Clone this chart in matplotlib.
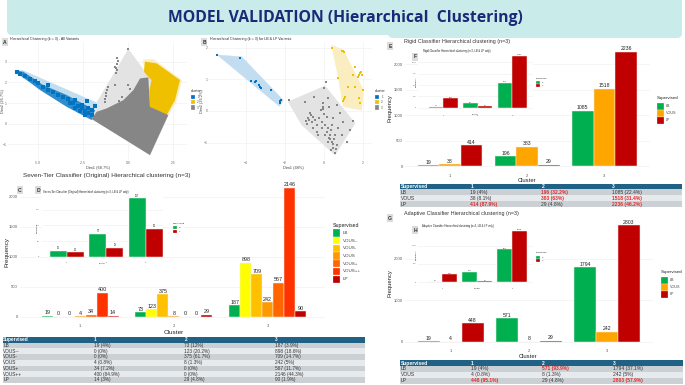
import numpy as np
import matplotlib
matplotlib.use('Agg')
import matplotlib.pyplot as plt
from matplotlib.patches import FancyBboxPatch, Rectangle, Polygon

plt.rcParams['font.family'] = ['Liberation Sans', 'DejaVu Sans']

W, H = 685, 385

# ---- data ----
clusters = [1, 2, 3]

# seven tier classifier
tiers = ['LB', 'VOUS--', 'VOUS-', 'VOUS', 'VOUS+', 'VOUS++', 'LP']
tier_colors = ['#00B050', '#FFFF00', '#FFC000', '#FF9900', '#FF6600', '#FF3300', '#C00000']
seven_vals = [[19, 73, 187], [0, 123, 898], [0, 375, 709], [4, 8, 242],
              [34, 0, 567], [400, 0, 2146], [14, 29, 90]]
seven_pct = [['4%', '12%', '3.9%'], ['0%', '20.2%', '18.6%'], ['0%', '61.7%', '14.7%'],
             ['0.8%', '1.3%', '5%'], ['7.2%', '0%', '11.7%'], ['84.9%', '0%', '44.3%'],
             ['3%', '4.8%', '1.9%']]
seven_lb_lp = [[19, 73, 187], [14, 29, 90]]

# three tier classifiers
three = ['LB', 'VOUS', 'LP']
three_colors = ['#00B050', '#FFA500', '#C00000']
rigid_vals = [[19, 196, 1085], [38, 383, 1518], [414, 29, 2236]]
rigid_pct = [['4%', '32.2%', '22.4%'], ['8.1%', '63%', '31.4%'], ['87.9%', '4.8%', '46.2%']]
rigid_red = [(0, 1), (1, 1), (1, 2), (2, 0), (2, 2)]
rigid_lb_lp = [[19, 96, 551], [206, 29, 1140]]

adaptive_vals = [[19, 571, 1794], [4, 8, 242], [448, 29, 2803]]
adaptive_pct = [['4%', '93.9%', '37.1%'], ['0.8%', '1.3%', '5%'], ['95.1%', '4.8%', '57.9%']]
adaptive_red = [(0, 1), (2, 0), (2, 2)]
adaptive_lb_lp = [[19, 282, 900], [218, 29, 1409]]

lb_lp = ['LB', 'LP']
lb_lp_colors = ['#00B050', '#C00000']

# cluster plots
cl_colors = ['#0073C2', '#EFC000', '#868686']
cl_fills = ['#C3DDF0', '#FAEDBF', '#E3E3E3']

a_hull1_x = [-6.28, -5.81, -1.74, -2.02, -6.28]
a_hull1_y = [2.56, 2.56, 1.01, 0.26, 2.46]
a_hull2_x = [0.85, 1.41, 2.98, 2.7, 2.24, 1.22, 1.13, 0.94]
a_hull2_y = [3.08, 3.11, 2.11, 1.14, 0.42, 0.82, 1.63, 2.51]
a_hull3_x = [0.02, 0.94, 1.22, 2.24, 1.22, -2.02, -1.74]
a_hull3_y = [3.59, 2.51, 2.2, 0.42, -1.51, 0.26, 1.01]
a_core1_x = [-6.28, -5.81, -4.71, -3.41, -1.83, -2.02, -3.41, -4.89, -6.0]
a_core1_y = [2.59, 2.51, 1.87, 1.39, 0.66, 0.18, 0.82, 1.63, 2.35]
a_core2_x = [0.94, 1.59, 2.89, 2.61, 2.15, 1.22, 1.19, 1.31, 0.89]
a_core2_y = [3.0, 2.92, 2.11, 1.14, 0.42, 0.82, 1.63, 2.11, 2.51]
a_core3_x = [-2.02, 1.22, 2.24, 1.22, 1.13, 0.67, 0.30, -0.26, -1.19, -1.74]
a_core3_y = [0.23, -1.51, 0.42, 0.82, 2.24, 2.19, 1.63, 1.14, 0.74, 0.58]
a_pts1_x = [-6.19, -6.0, -5.72, -5.44, -5.17, -4.98, -4.70, -4.43, -4.15, -3.87, -3.59, -3.31,
            -3.04, -2.76, -2.57, -2.39, -2.20, -2.02, -1.83, -2.30, -4.43, -3.22, -2.94, -2.67,
            -2.39, -2.94, -2.57, -2.20, -2.02]
a_pts1_y = [2.50, 2.40, 2.30, 2.18, 2.05, 1.95, 1.76, 1.63, 1.53, 1.39, 1.27, 1.18,
            0.98, 0.86, 0.74, 0.63, 0.50, 0.42, 0.86, 1.10, 1.87, 0.98, 0.74, 0.61,
            0.42, 1.14, 0.90, 0.74, 0.66]
a_pts3_x = [-0.63, -0.6, -0.63, -0.7, -1.2, -1.3, -1.1, -0.7, 0.0, -0.5, 0.02, -0.65, -1.25,
            -0.58, -0.66, -1.15, -1.28, -0.35, 0.1]
a_pts3_y = [3.16, 2.9, 2.6, 2.75, 1.5, 1.2, 1.8, 1.85, 1.85, 1.1, 3.59, 2.45, 1.35,
            3.03, 2.68, 1.65, 1.05, 1.3, 1.7]

b_hull1_x = [-5.47, -4.22, -2.09, -2.29]
b_hull1_y = [1.77, 1.71, 0.34, 0.15]
b_hull2_x = [0.39, 0.99, 2.02, 1.93, 0.99, 0.73]
b_hull2_y = [2.08, 1.92, 0.66, 0.03, 0.14, 1.08]
b_hull3_x = [-1.83, 0.05, 1.59, 0.56, -1.14]
b_hull3_y = [0.29, 0.79, -0.39, -1.39, -0.44]
b_pts1_x = [-5.47, -4.31, -3.76, -3.49, -3.28, -3.25, -3.32, -2.72, -2.21, -2.26, -3.55, -2.28]
b_pts1_y = [1.77, 1.66, 0.96, 0.96, 0.77, 0.72, 0.82, 0.66, 0.35, 0.24, 0.92, 0.30]
b_pts2_x = [0.43, 0.91, 1.03, 1.59, 1.85, 1.76, 1.93, 1.25, 1.59, 1.08, 0.99, 1.85, 1.81, 2.02, 0.74, 1.47,
            0.97, 1.8, 1.88, 1.02]
b_pts2_y = [2.0, 1.90, 1.87, 1.38, 1.19, 1.08, 1.14, 0.75, 0.75, 0.45, 0.33, 0.24, 0.40, 0.66, 1.03, 1.14,
            1.88, 1.15, 1.22, 0.39]
b_pts3_x = [-1.81, -0.97, -0.50, 0, 0.10, -0.72, -0.80, -0.92, -0.85, -0.63, -0.55, -0.38, -0.24, -0.17,
            -0.07, -0.03, 0.22, 0.27, 0.65, 0.82, -0.12, 0.05, 0.14, 0.31, 0.39, 0.48, 0.56, 0.65,
            0.91, 0.99, 1.50, 1.33, 1.16, 0.56, 0.39, -0.38, -0.55, -0.29, 0.22, 0.74, 0.48, 0.14,
            0.05, 0.34, -0.75, -0.68, -0.45, -0.1, -0.05, 0.0, 0.2, 0.26, 0.44, 0.5, 0.6, 0.36, 0.3]
b_pts3_y = [0.35, 0.29, 0.43, 0.72, 0.93, -0.07, -0.23, -0.32, -0.42, -0.36, -0.18, -0.44, -0.23, 0.03,
            0.24, 0.14, 0.40, 0.14, 0.19, -0.07, -0.55, -0.44, -0.65, -0.76, -0.97, -1.18, -1.34, -1.07,
            -0.76, -0.34, -0.32, -0.60, -0.97, -0.76, -0.44, -0.65, -0.55, -0.76, -0.97, -0.55, -0.23, -0.18,
            -0.76, -1.23, -0.3, -0.12, -0.3, -0.35, 0.05, -0.1, -0.55, -0.85, -1.05, -0.9, -1.2, -0.6, -0.88]


# ---- helpers ----
def px_axes(l, t, r, b, z=1):
    ax = fig.add_axes([l / W, 1 - b / H, (r - l) / W, (b - t) / H], zorder=z)
    ax.set_facecolor('white')
    for s in ax.spines.values():
        s.set_visible(False)
    ax.grid(True, color='#eeeeee', lw=0.4)
    ax.set_axisbelow(True)
    return ax


def bar_panel(ax, vals, colors, total=0.84, fs=3.9, ticks=None, tick_fs=3.0):
    n = len(vals)
    w = total / n
    x = np.array(clusters, dtype=float)
    for i, v in enumerate(vals):
        bars = ax.bar(x + (i - (n - 1) / 2) * w, v, w, color=colors[i], edgecolor='#f3f0ea', linewidth=0.35)
        ax.bar_label(bars, padding=0.4, fontsize=fs, color='#222222')
    ax.set_xticks(clusters)
    ax.set_yticks(ticks)
    ax.tick_params(length=0, labelsize=tick_fs, pad=1.5, labelcolor='#555555')
    ax.xaxis.grid(False)


def scatter_panel(ax, hulls, pts, s):
    for i in range(3):
        ax.add_patch(Polygon(np.column_stack(hulls[i]), closed=True, facecolor=cl_fills[i], edgecolor=cl_fills[i], lw=0.4))
    for i in range(3):
        if pts[i] is not None:
            ax.scatter(pts[i][0], pts[i][1], s=s, marker='s', color=cl_colors[i], linewidths=0)
    ax.tick_params(length=0, labelsize=2.4, pad=1, labelcolor='#666666')


def txt(x, y, s, **kw):
    kw.setdefault('va', 'center')
    kw.setdefault('color', '#222222')
    over.text(x, y, s, **kw)


def legend_px(x, y_title, y0, step, sw, sh, title, labels, colors, fs):
    txt(x, y_title, title, fontsize=fs)
    for i, lab in enumerate(labels):
        over.add_patch(Rectangle((x, y0 + i * step), sw, sh, facecolor=colors[i], edgecolor='white', lw=0.2))
        txt(x + sw + 2, y0 + i * step + sh / 2, lab, fontsize=fs * 0.85, color='#444444')


def badge(x, y, s):
    txt(x, y, s, fontsize=3.6, fontweight='bold', ha='center', color='#333333',
        bbox=dict(boxstyle='square,pad=0.25', facecolor='#dcdcdc', edgecolor='none'))


def table_px(x0, x1, cols, top, hh, rh, labels, vals, pct, red=(), fs=3.4):
    over.add_patch(Rectangle((x0, top), x1 - x0, hh, facecolor='#1F6285', edgecolor='none'))
    for c, s in zip(cols, ['Supervised', '1', '2', '3']):
        txt(c + 0.5, top + hh / 2, s, fontsize=fs, color='white', fontweight='bold')
    for r, lab in enumerate(labels):
        y = top + hh + r * rh
        over.add_patch(Rectangle((x0, y), x1 - x0, rh, facecolor='#CBD0D5' if r % 2 == 0 else '#E7EAED', edgecolor='none'))
        txt(cols[0] + 0.5, y + rh / 2, lab, fontsize=fs, color='#333333')
        for j in range(3):
            s = '%d (%s)' % (vals[r][j], pct[r][j])
            if (r, j) in red:
                txt(cols[j + 1] + 0.5, y + rh / 2, s, fontsize=fs, color='#E02B2B', fontweight='bold')
            else:
                txt(cols[j + 1] + 0.5, y + rh / 2, s, fontsize=fs, color='#333333')


fig = plt.figure(figsize=(W / 100, H / 100), dpi=100, facecolor='white')

# ---- panel A ----
ax_a = px_axes(8, 42, 187, 160)
ax_a.set_xlim(-6.67, 3.28)
ax_a.set_ylim(-1.75, 3.95)
scatter_panel(ax_a, [(a_hull1_x, a_hull1_y), (a_hull2_x, a_hull2_y), (a_hull3_x, a_hull3_y)],
              [None, None, (a_pts3_x, a_pts3_y)], 3.5)
ax_a.add_patch(Polygon(np.column_stack((a_core1_x, a_core1_y)), facecolor='#2F8BCB', edgecolor='none'))
ax_a.scatter(a_pts1_x, a_pts1_y, s=6, marker='s', color=cl_colors[0], linewidths=0)
ax_a.add_patch(Polygon(np.column_stack((a_core2_x, a_core2_y)), facecolor=cl_colors[1], edgecolor='none'))
ax_a.add_patch(Polygon(np.column_stack((a_core3_x, a_core3_y)), facecolor=cl_colors[2], edgecolor='none'))
ax_a.set_xticks([-5, -2.5, 0, 2.5])
ax_a.set_xticklabels(['-5.0', '-2.5', '0.0', '2.5'])
ax_a.set_yticks([-1, 0, 1, 2, 3])

# ---- panel B ----
ax_b = px_axes(208, 42, 372, 160)
ax_b.set_xlim(-5.95, 2.46)
ax_b.set_ylim(-1.55, 2.18)
scatter_panel(ax_b, [(b_hull1_x, b_hull1_y), (b_hull2_x, b_hull2_y), (b_hull3_x, b_hull3_y)],
              [(b_pts1_x, b_pts1_y), (b_pts2_x, b_pts2_y), (b_pts3_x, b_pts3_y)], 4.5)
ax_b.set_xticks([-4, -2, 0, 2])
ax_b.set_yticks([-1, 0, 1, 2])
ax_b.tick_params(axis='y', pad=0)

# ---- panel C + inset D ----
ax_c = px_axes(20, 182, 325, 322)
ax_c.set_xlim(0.36, 3.61)
ax_c.set_ylim(-88, 2245)
bar_panel(ax_c, seven_vals, tier_colors, total=0.82, fs=3.9, ticks=[0, 500, 1000, 1500, 2000])
ax_d = px_axes(41.7, 195, 163.3, 260, 2)
ax_d.set_xlim(0.37, 3.44)
ax_d.set_ylim(-10.6, 197)
bar_panel(ax_d, seven_lb_lp, lb_lp_colors, total=0.86, fs=1.8, ticks=[0, 50, 100, 150], tick_fs=1.6)

# ---- panel E + inset F ----
ax_e = px_axes(405, 47.7, 650, 171.7)
ax_e.set_xlim(0.417, 3.59)
ax_e.set_ylim(-105, 2319)
bar_panel(ax_e, rigid_vals, three_colors, total=0.84, fs=3.7, ticks=[0, 500, 1000, 1500, 2000])
ax_f = px_axes(418, 53, 533, 113, 2)
ax_f.set_xlim(0.267, 3.6)
ax_f.set_ylim(-117, 1207)
bar_panel(ax_f, rigid_lb_lp, lb_lp_colors, total=0.85, fs=1.6, ticks=[0, 250, 500, 750, 1000], tick_fs=1.5)

# ---- panel G + inset H ----
ax_g = px_axes(405, 220, 653, 346.7)
ax_g.set_xlim(0.413, 3.59)
ax_g.set_ylim(-113, 2928)
bar_panel(ax_g, adaptive_vals, three_colors, total=0.84, fs=3.7, ticks=[0, 1000, 2000])
ax_h = px_axes(418, 225, 533, 285.7, 2)
ax_h.set_xlim(0.306, 3.59)
ax_h.set_ylim(-93, 1561)
bar_panel(ax_h, adaptive_lb_lp, lb_lp_colors, total=0.85, fs=1.6, ticks=[0, 500, 1000], tick_fs=1.5)

# ---- overlay in pixels for banner, legends, tables ----
over = fig.add_axes([0, 0, 1, 1], zorder=5)
over.set_xlim(0, W)
over.set_ylim(H, 0)
over.axis('off')

over.add_patch(FancyBboxPatch((7, -10), 675, 45, boxstyle='round,pad=0,rounding_size=5', facecolor='#C9ECEA', edgecolor='none'))
over.add_patch(FancyBboxPatch((388, 20), 294, 18, boxstyle='round,pad=0,rounding_size=5', facecolor='#C9ECEA', edgecolor='none'))
txt(345, 18, 'MODEL VALIDATION (Hierarchical  Clustering)', fontsize=11.3, fontweight='bold',
    ha='center', color='#1B2A78', family=['Open Sans', 'DejaVu Sans'])

# titles
txt(10, 39, 'Hierarchical Clustering (k = 3) - All Variants', fontsize=2.6)
txt(210, 39, 'Hierarchical Clustering (k = 3) for LB & LP Variants', fontsize=2.6)
txt(23, 176, 'Seven-Tier Classifier (Original) Hierarchical clustering (n=3)', fontsize=4.6, color='#333333')
txt(43, 192, 'Seven-Tier Classifier (Original) Hierarchical clustering (n=3, LB & LP only)', fontsize=1.9)
txt(404, 41.7, 'Rigid Classifier Hierarchical clustering (n=3)', fontsize=3.9, color='#333333')
txt(423, 51, 'Rigid Classifier Hierarchical clustering (n=3, LB & LP only)', fontsize=1.9)
txt(404, 214, 'Adaptive Classifier Hierarchical clustering (n=3)', fontsize=3.9, color='#333333')
txt(422, 226, 'Adaptive Classifier Hierarchical clustering (n=3, LB & LP only)', fontsize=1.9)

# axis labels
txt(98, 168, 'Dim1 (68.7%)', fontsize=2.8, ha='center', color='#444444')
txt(3.5, 101, 'Dim2 (26.7%)', fontsize=2.8, ha='center', rotation=90, color='#444444')
txt(293, 168, 'Dim1 (48%)', fontsize=2.8, ha='center', color='#444444')
txt(202.5, 101, 'Dim2 (26.2%)', fontsize=2.8, ha='center', rotation=90, color='#444444')
txt(7.5, 252, 'Frequency', fontsize=4.6, ha='center', rotation=90)
txt(174, 332.7, 'Cluster', fontsize=4.6, ha='center')
txt(390, 107.7, 'Frequency', fontsize=4.2, ha='center', rotation=90)
txt(527, 180.3, 'Cluster', fontsize=4.2, ha='center')
txt(390, 283, 'Frequency', fontsize=4.2, ha='center', rotation=90)
txt(528, 356, 'Cluster', fontsize=4.2, ha='center')
txt(102, 263, 'Cluster', fontsize=1.6, ha='center')
txt(475, 114, 'Cluster', fontsize=1.6, ha='center')
txt(477, 288, 'Cluster', fontsize=1.6, ha='center')
txt(37, 228, 'Frequency', fontsize=1.6, ha='center', rotation=90)
txt(416, 82, 'Frequency', fontsize=1.6, ha='center', rotation=90)
txt(416, 255, 'Frequency', fontsize=1.6, ha='center', rotation=90)

# legends
cl_names = ['1', '2', '3']
legend_px(191, 91.5, 95, 5.2, 4.3, 4.3, 'cluster', cl_names, cl_colors, 2.6)
legend_px(375, 91.5, 95, 5.2, 4.3, 4.3, 'cluster', cl_names, cl_colors, 2.6)
legend_px(333, 225, 229.3, 7.7, 7.5, 7.2, 'Supervised', tiers, tier_colors, 3.8)
legend_px(657, 98.3, 103, 7, 7.2, 6.8, 'Supervised', three, three_colors, 3.2)
legend_px(660.7, 272.3, 276.7, 7, 7.2, 6.8, 'Supervised', three, three_colors, 3.2)
legend_px(173.3, 223.3, 226, 3.7, 3.3, 3.4, 'Supervised', lb_lp, lb_lp_colors, 1.7)
legend_px(536.3, 78.3, 81, 3.2, 3.5, 3.0, 'Supervised', lb_lp, lb_lp_colors, 1.6)
legend_px(536.3, 252.3, 256, 3.0, 3.5, 2.8, 'Supervised', lb_lp, lb_lp_colors, 1.6)

# panel letters
for bx, by, s in [(5, 42, 'A'), (204, 42, 'B'), (20, 190, 'C'), (38, 190, 'D'), (390, 46, 'E'),
                  (415, 57, 'F'), (390, 218, 'G'), (415, 230, 'H')]:
    badge(bx, by, s)

# tables
table_px(2.7, 365, [2.7, 93.3, 184, 274.3], 337, 5.7, 5.7, tiers, seven_vals, seven_pct)
table_px(400, 682, [400, 470, 541, 611.7], 183.7, 5.5, 6, three, rigid_vals, rigid_pct, rigid_red, fs=3.6)
table_px(400, 683, [400, 470.7, 541.7, 612.3], 360.3, 5.5, 6, three, adaptive_vals, adaptive_pct, adaptive_red, fs=3.6)

fig.savefig('out.png', dpi=100)
